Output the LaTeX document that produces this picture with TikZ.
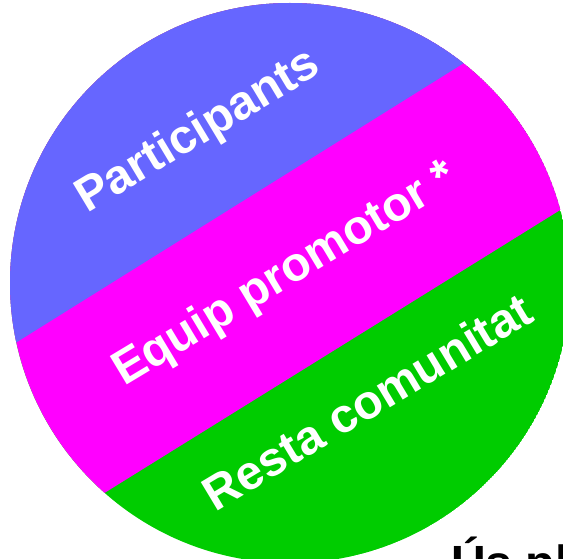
\documentclass[tikz,border=0pt]{standalone}
\usepackage{fontspec}
\setmainfont{Liberation Sans}
\tikzset{
  bandlabel/.style={text=white, font=\bfseries\fontsize{48}{58}\selectfont, anchor=base, rotate=31, inner sep=0pt},
  footlabel/.style={text=black, font=\bfseries\fontsize{48}{58}\selectfont, anchor=base west, inner sep=0pt}
}
\definecolor{bandblue}{HTML}{6666FF}
\definecolor{bandmagenta}{HTML}{FF00FF}
\definecolor{bandgreen}{HTML}{00CC00}
\begin{document}
\begin{tikzpicture}[x=1pt,y=1pt]
\useasboundingbox (0,0) rectangle (563,558);
\clip (0,0) rectangle (563,558);
\begin{scope}
  \clip (290,275) circle (280);
  \fill[bandgreen] (290,275) circle (280);
  \fill[bandmagenta] (-345,-214) -- (1008,626) -- (-345,626) -- cycle;
  \fill[bandblue] (-430,-63) -- (911,774) -- (-430,774) -- cycle;
\end{scope}
\node[bandlabel] (p) at (205,415) {Participants};
\node[bandlabel] (e) at (292,272) {Equip promotor *};
\node[bandlabel] (r) at (376,142) {Resta comunitat};
\node[footlabel] (u) at (451,-21) {Ús pl};
\end{tikzpicture}
\end{document}
